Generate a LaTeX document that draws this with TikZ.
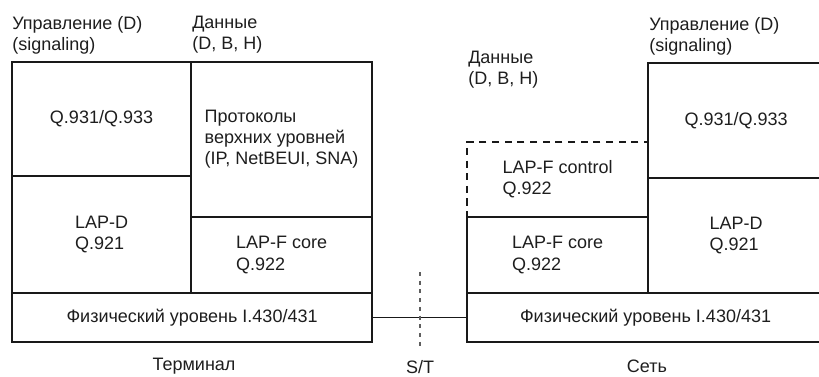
\documentclass[tikz,border=0pt]{standalone}
\usepackage{fontspec}
\setmainfont{Liberation Sans}
\usetikzlibrary{positioning}
\definecolor{frLine}{RGB}{25,25,25}
\definecolor{frText}{RGB}{30,30,30}

\begin{document}
\begin{tikzpicture}[x=0.025cm, y=-0.025cm,
  proto/.style={draw=frLine, line width=1.1pt, inner sep=0pt, outer sep=0pt, anchor=north west,
    align=left, text=frText, font=\fontsize{12.8pt}{15pt}\selectfont},
  lbl/.style={inner sep=0pt, align=left, text=frText, font=\fontsize{12.8pt}{15pt}\selectfont}]
  \clip (0,0) rectangle (819,376);
  \fill[white] (0,0) rectangle (819,376);

  % Terminal stack
  \node[proto, minimum width=4.475cm, minimum height=2.85cm] (q931L) at (12,62) {Q.931/Q.933};
  \node[proto, minimum width=4.525cm, minimum height=3.875cm] (uppL) at (191,62)
    {Протоколы\\верхних уровней\\(IP, NetBEUI, SNA)};
  \node[proto, minimum width=4.475cm, minimum height=2.925cm] (lapdL) at (12,176) {LAP-D\\Q.921};
  \node[proto, minimum width=4.525cm, minimum height=1.9cm] (coreL) at (191,217) {LAP-F core\\Q.922};
  \node[proto, minimum width=9cm, minimum height=1.225cm] (physL) at (12,293) {Физический уровень I.430/431};

  % Network stack
  \node[proto, dash pattern=on 5pt off 4pt, minimum width=4.525cm, minimum height=1.875cm] (ctrlR) at (467,142)
    {LAP-F control\\Q.922};
  \node[proto, minimum width=4.525cm, minimum height=1.9cm] (coreR) at (467,217) {LAP-F core\\Q.922};
  \node[proto, minimum width=4.4cm, minimum height=2.875cm] (q931R) at (648,63) {Q.931/Q.933};
  \node[proto, minimum width=4.4cm, minimum height=2.875cm] (lapdR) at (648,178) {LAP-D\\Q.921};
  \node[proto, minimum width=8.925cm, minimum height=1.225cm] (physR) at (467,293) {Физический уровень I.430/431};

  % Plane labels
  \node[lbl, anchor=west] (ctlL) at (12,35) {Управление (D)\\(signaling)};
  \node[lbl, anchor=west] (datL) at (192,35) {Данные\\(D, B, H)};
  \node[lbl, anchor=west] (datR) at (468,70) {Данные\\(D, B, H)};
  \node[lbl, anchor=west] (ctlR) at (649,36) {Управление (D)\\(signaling)};

  % S/T reference point
  \draw[frLine, line width=1.1pt] (physL.east) -- (physR.west);
  \coordinate (stTop) at (420,272);
  \coordinate (stBot) at (420,348);
  \draw[frLine!70, line width=1.2pt, dash pattern=on 2.8pt off 3.4pt] (stTop) -- (stBot);
  \node[lbl] (st) at (420,367) {S/T};
  \node[lbl] (term) at (194,366) {Терминал};
  \node[lbl] (net) at (647,366) {Сеть};
\end{tikzpicture}
\end{document}
